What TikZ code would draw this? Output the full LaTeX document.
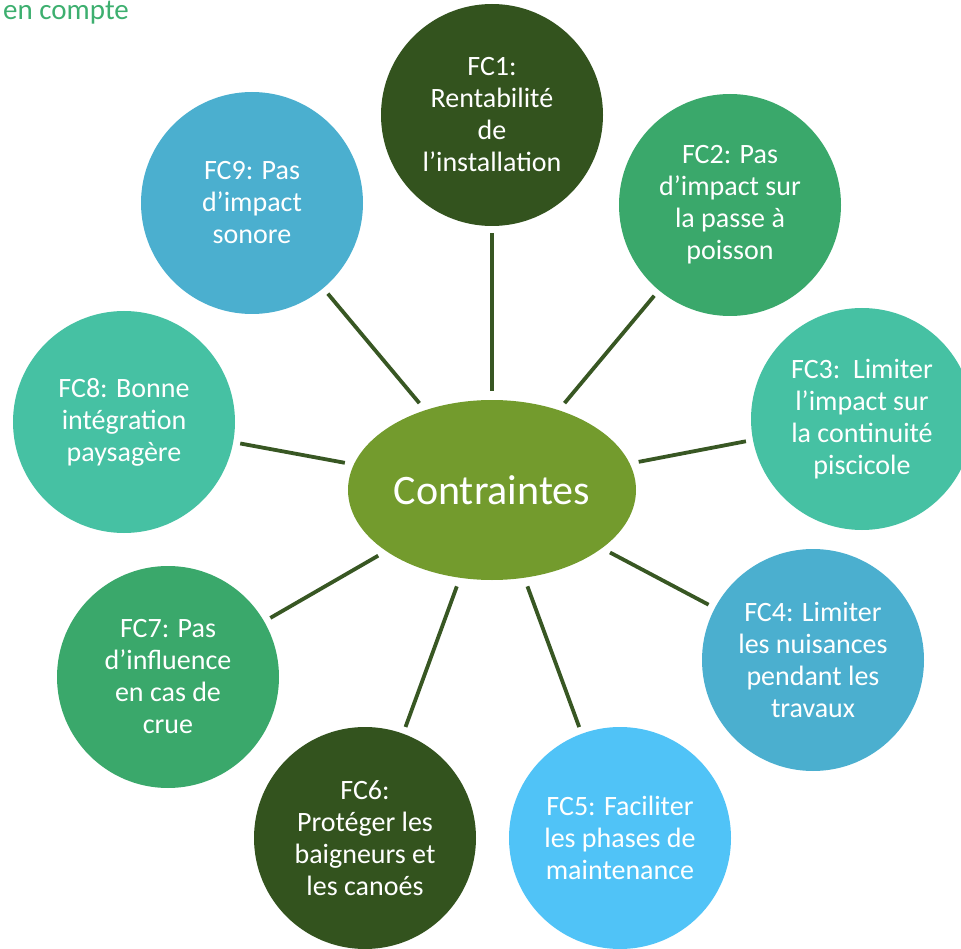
\documentclass[tikz,border=0pt]{standalone}
\usepackage{fontspec}
\setmainfont{Carlito}
\usetikzlibrary{shapes.geometric}

\definecolor{darkleaf}{HTML}{33531E}
\definecolor{midgreen}{HTML}{3AA86B}
\definecolor{seagreen}{HTML}{46C1A3}
\definecolor{steelblue}{HTML}{4BAFCF}
\definecolor{skyblue}{HTML}{50C3F7}
\definecolor{olive}{HTML}{739B2D}
\definecolor{linkgreen}{HTML}{385723}
\definecolor{headgreen}{HTML}{3DAF6F}

\tikzset{
  fcbox/.style={circle, minimum size=222pt, inner sep=0pt, text=white,
    align=center, font=\fontsize{28}{32}\selectfont},
  link/.style={draw=linkgreen, line width=3.8pt, shorten <=9pt, shorten >=7pt},
}

\begin{document}
\begin{tikzpicture}[x=1pt, y=-1pt]
    \useasboundingbox (0,0) rectangle (961,949);

    % Title rest
    \node[anchor=base west, inner sep=0pt, text=headgreen,
      font=\fontsize{29}{32}\selectfont] (title) at (3,20) {en compte};

    % Centre
    \node[ellipse, fill=olive, minimum width=288pt, minimum height=180pt,
      inner sep=0pt, text=white, font=\fontsize{42}{48}\selectfont]
      (centre) at (492,490) {Contraintes};

    % Constraints
    \node[fcbox, fill=darkleaf]  (fc1) at (492,115) {FC1:\\Rentabilité\\de\\l’installation};
    \node[fcbox, fill=midgreen]  (fc2) at (730,205) {FC2: Pas\\d’impact sur\\la passe à\\poisson};
    \node[fcbox, fill=seagreen]  (fc3) at (862,419) {FC3:\ \ Limiter\\l’impact sur\\la continuité\\piscicole};
    \node[fcbox, fill=steelblue] (fc4) at (813,660) {FC4: Limiter\\les nuisances\\pendant les\\travaux};
    \node[fcbox, fill=skyblue]   (fc5) at (620,838) {FC5: Faciliter\\les phases de\\maintenance};
    \node[fcbox, fill=darkleaf]  (fc6) at (365,838) {FC6:\\Protéger les\\baigneurs et\\les canoés};
    \node[fcbox, fill=midgreen]  (fc7) at (168,677) {FC7: Pas\\d’influence\\en cas de\\crue};
    \node[fcbox, fill=seagreen]  (fc8) at (124,422) {FC8: Bonne\\intégration\\paysagère};
    \node[fcbox, fill=steelblue] (fc9) at (252,203) {FC9: Pas\\d’impact\\sonore};

    % Links
    \foreach \k in {1,...,9}
        \draw[link] (centre) -- (fc\k);
\end{tikzpicture}
\end{document}
